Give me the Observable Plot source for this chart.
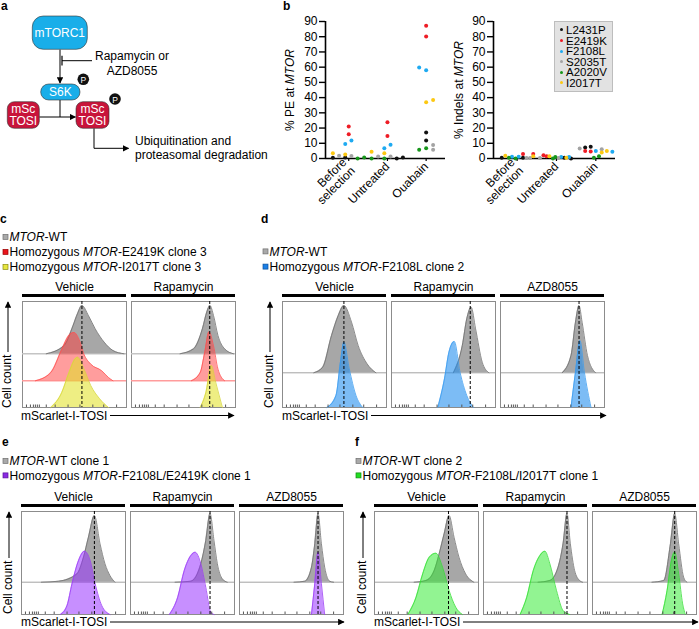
<!DOCTYPE html>
<html><head><meta charset="utf-8">
<script src="https://cdn.jsdelivr.net/npm/d3@7"></script>
<script src="https://cdn.jsdelivr.net/npm/@observablehq/plot@0.6"></script>
<style>
body{margin:0;background:#fff;font-family:"Liberation Sans",Arial,Helvetica,sans-serif;}
#fig{position:relative;width:699px;height:629px;overflow:hidden;background:#fff;}
#fig svg{overflow:visible;}
</style></head><body><div id="fig"></div><script>
// ---------------- DATA ----------------
const mutations = ["L2431P","E2419K","F2108L","S2035T","A2020V","I2017T"];
const mutationColors = ["#111111","#ee1c25","#1eaaf1","#a3a3a3","#17961b","#fcc812"];
const conditions = ["Before\nselection","Untreated","Ouabain"];
const yTicksB = [0,10,20,30,40,50,60,70,80,90];

// % PE at MTOR : [mutation, value, horizontal jitter (in category widths)]
const peBefore = [["L2431P",0.5,-0.41],["L2431P",0.7,-0.09],["E2419K",21,0],["E2419K",16,0],["F2108L",9.6,-0.09],["F2108L",11.8,0.07],["S2035T",1.8,-0.25],["S2035T",1.7,0.07],["A2020V",0,0.23],["A2020V",0.7,0.40],["I2017T",3.4,-0.41],["I2017T",2.6,-0.09]];
const peUntreated = [["L2431P",0,0.24],["L2431P",0.7,0.40],["E2419K",23.8,0],["E2419K",14.8,0],["F2108L",6.8,-0.08],["F2108L",9,0.08],["S2035T",1.3,-0.24],["S2035T",1.3,0.08],["A2020V",0,-0.41],["A2020V",0,-0.08],["I2017T",4.4,-0.41],["I2017T",3.5,-0.08]];
const peOuabain = [["L2431P",17,0],["L2431P",11.8,0],["E2419K",87.2,0],["E2419K",80.2,0],["F2108L",59.8,-0.18],["F2108L",57.9,0],["S2035T",8.8,0.18],["S2035T",5.7,0.18],["A2020V",5.7,-0.18],["A2020V",6.8,0],["I2017T",36.9,0],["I2017T",38.4,0.18]];
// % Indels at MTOR
const indelBefore = [["L2431P",0.5,-0.39],["L2431P",0.5,0.15],["E2419K",2.9,0.15],["E2419K",2.9,0.41],["F2108L",1.1,-0.13],["F2108L",1.1,0.04],["S2035T",0.3,0.24],["S2035T",0.3,0.33],["A2020V",0.5,-0.21],["A2020V",0,-0.04],["I2017T",1.8,-0.30],["I2017T",1.5,0.41]];
const indelUntreated = [["L2431P",0.5,0.2],["L2431P",0,0.37],["E2419K",2.2,-0.33],["E2419K",1.5,-0.25],["F2108L",1,0.12],["F2108L",1,0.32],["S2035T",0.3,-0.42],["S2035T",0.3,0.05],["A2020V",0,-0.09],["A2020V",1,-0.03],["I2017T",1.5,-0.18],["I2017T",0.5,0.25]];
const indelOuabain = [["L2431P",7.2,-0.27],["L2431P",7.7,-0.13],["E2419K",5,-0.27],["E2419K",4.6,-0.13],["F2108L",5,0],["F2108L",4.4,0.42],["S2035T",6.6,-0.41],["S2035T",6.1,0.15],["A2020V",0.5,-0.05],["A2020V",1.5,0.08],["I2017T",3.9,0.15],["I2017T",5,0.28]];

// Flow histograms: [mScarlet-I-TOSI (relative log units), cell count (scaled)]
const treatmentsC = ["Vehicle","Rapamycin"];
const treatments = ["Vehicle","Rapamycin","AZD8055"];
const cWT_Vehicle = [[24,0],[42,8.3],[51,28],[55.5,40],[60,48.3],[66.7,38],[73.4,25],[82.4,11.7],[91.3,3.3],[102.5,0]];
const cE2419K_Vehicle = [[13,0],[28.6,8.3],[39.8,31.7],[46.5,45],[52,48.3],[57.7,40],[62,26.7],[68.9,16.7],[80,10],[86.8,3.3],[91.3,0]];
const cI2017T_Vehicle = [[28.6,0],[39.8,15.3],[46.5,33.7],[53.2,48.7],[55.5,50.3],[62,38.7],[68.9,22],[77.9,8.7],[86.8,0]];
const cWT_Rapamycin = [[49,0],[62.7,5],[71.6,25],[76,41.7],[79.2,48.3],[82.8,38.3],[87.3,18.3],[94,5],[103,0]];
const cE2419K_Rapamycin = [[60.4,0],[69.4,8.3],[73.9,28.3],[78.3,49],[82.8,35],[87.3,11.7],[94,0]];
const cI2017T_Rapamycin = [[69.4,0],[75.2,15.3],[80.6,42],[85,25.3],[91.8,0]];
const cMedianWT = [["Vehicle",60],["Rapamycin",79]];

const dWT_Vehicle = [[31.6,0],[40.6,5.6],[49.5,37.3],[56.3,57.3],[62,67.3],[69.7,50.6],[76.4,27.3],[85.4,9],[94.3,0]];
const dF2108L_Vehicle = [[45,0],[54,12],[58.5,45.3],[62,65.3],[67.4,38.7],[74.2,12],[81,0]];
const dWT_Rapamycin = [[62.5,0],[71.5,27.3],[76,54],[80.4,65.6],[84.9,44],[91.6,10.6],[98.3,0]];
const dF2108L_Rapamycin = [[46.8,0],[53.5,28.7],[58,55.3],[63.4,66],[69.2,35.3],[76,12],[82.7,0]];
const dWT_AZD8055 = [[62.3,0],[71.2,17.3],[75.7,50.6],[79.3,67.3],[82.4,50.6],[87.8,17.3],[95.9,0]];
const dF2108L_AZD8055 = [[71.2,0],[75.7,35.3],[80.2,67],[84.7,35.3],[91.4,0]];
const dMedianWT = [["Vehicle",62],["Rapamycin",79.5],["AZD8055",79.3]];

const eWT_Vehicle = [[20,0],[37.6,1],[56,8.4],[62.6,25],[67.6,45],[73.6,66.7],[79.3,38.4],[84.3,18.4],[89.3,6.7],[94.3,0]];
const eFE_Vehicle = [[39.3,0],[46,9],[51,30.7],[57.6,54],[63.6,63.3],[69.3,54],[74.3,31],[81,9],[89.3,0]];
const eWT_Rapamycin = [[45,0],[61,1],[71,18.4],[76,41.7],[80.3,68.7],[84.3,41.7],[87.7,18.4],[92.7,3.4],[97.7,0]];
const eFE_Rapamycin = [[39.3,0],[47.7,17.3],[54.3,44],[61,59],[65.3,62.3],[71,50.7],[76,27.3],[81,2.3],[84.3,0]];
const eWT_AZD8055 = [[55,0],[66,1],[72.7,15],[76,38.4],[79.3,68.7],[82.7,38.4],[86,15],[91,1],[95,0]];
const eFE_AZD8055 = [[72.7,0],[76,30.7],[79.3,62.3],[82.7,30.7],[86,0]];
const eMedianWT = [["Vehicle",73.6],["Rapamycin",80.3],["AZD8055",79.3]];

const fWT_Vehicle = [[40,0],[52,1.7],[60.3,11.7],[65.3,28.4],[70.3,48.4],[75.3,66.7],[80.3,45],[85.3,25],[92,8.4],[100.3,0]];
const fFI_Vehicle = [[33.7,0],[42,17.3],[48.7,40.7],[55.3,57.3],[62,61.3],[68.7,47.3],[75.3,24],[82,7.3],[88.7,0]];
const fWT_Rapamycin = [[55,0],[67,1.7],[75.3,15],[80.3,38.4],[84.3,68.7],[87.7,38.4],[92,11.7],[97,1.7],[100,0]];
const fFI_Rapamycin = [[37,0],[43.7,17.3],[50.3,44],[57,59],[62,63.3],[67,50.7],[73.7,24],[80.3,4],[87,0]];
const fWT_AZD8055 = [[60,0],[72,1.7],[78.7,38.4],[83,68.7],[87,38.4],[92,5],[95.3,0]];
const fFI_AZD8055 = [[70.3,0],[75.3,24],[79.7,54],[83,62.3],[87,40.7],[91,10.7],[93.7,0]];
const fMedianWT = [["Vehicle",74.7],["Rapamycin",84.3],["AZD8055",83]];

const histTicks = [4,8,11,13,15,17,24,33,46,58,71,82,95];

// ---------------- HELPERS ----------------
const FONT = '"Liberation Sans", Arial, Helvetica, sans-serif';
const fig = document.getElementById("fig");
function place(node, left, top) {
  node.style.position = "absolute"; node.style.left = left + "px"; node.style.top = top + "px";
  fig.appendChild(node);
}
const baseStyle = {fontFamily: FONT, fontSize: "12px", color: "#000", background: "transparent", overflow: "visible"};

// ---------------- PANEL b ----------------
function toPoints(groups) {
  return groups.flatMap((arr, c) => arr.map(([m, v, j]) => ({cond: c, mutation: m, value: v, jitter: j})));
}
function scatterPlot(points, marginLeft) {
  return Plot.plot({
    width: 170, height: 215, marginLeft, marginRight: 5, marginTop: 21, marginBottom: 57,
    style: baseStyle,
    x: {domain: [-0.6, 2.5]},
    y: {domain: [0, 90]},
    color: {domain: mutations, range: mutationColors},
    marks: [
      Plot.axisY({ticks: yTicksB, tickSize: 6, tickPadding: 2, label: null, strokeWidth: 1.4, fontSize: 12}),
      Plot.axisX({ticks: [0, 1, 2], tickFormat: i => conditions[i], tickRotate: -45, tickSize: 3, tickPadding: 3, label: null, fontSize: 12, strokeWidth: 1.2}),
      Plot.ruleX([-0.6], {y1: 0, y2: 90, strokeWidth: 1.6}),
      Plot.ruleY([0], {strokeWidth: 1.6}),
      Plot.dot(points, {x: d => d.cond + d.jitter, y: "value", fill: "mutation", r: 2})
    ]
  });
}
place(scatterPlot(toPoints([peBefore, peUntreated, peOuabain]), 45), 280, 0);
place(scatterPlot(toPoints([indelBefore, indelUntreated, indelOuabain]), 43), 450, 0);

// legend for panel b
const leg = document.createElement("div");
leg.style.cssText = `width:59px;height:71px;background:#e2e2e2;border:1px solid #bdbdbd;font:11.5px ${FONT};line-height:10.6px;padding-top:3px;box-sizing:border-box;`;
mutations.forEach((m, i) => {
  const row = document.createElement("div");
  row.style.cssText = "white-space:nowrap;height:10.6px;";
  row.innerHTML = `<span style="display:inline-block;width:3px;height:3px;border-radius:50%;background:${mutationColors[i]};margin:0 3px 2px 5px;vertical-align:middle"></span>${m}`;
  leg.appendChild(row);
});
place(leg, 554, 21);

// ---------------- HISTOGRAM PANELS ----------------
const histStyles = {
  WT:     {fill: "#858585", opacity: 0.72, stroke: "#707070"},
  E2419K: {fill: "#ff3b3b", opacity: 0.5,  stroke: "#ff5050"},
  I2017T: {fill: "#e2e22a", opacity: 0.58, stroke: "#d6d63c"},
  F2108L: {fill: "#2590ee", opacity: 0.6,  stroke: "#3a9cf0"},
  FE:     {fill: "#9933ff", opacity: 0.55, stroke: "#9a3cf5"},
  FI:     {fill: "#2eea2e", opacity: 0.52, stroke: "#33dd33"}
};
function rows(facet, pts) { return pts.map(([x, n]) => ({facet, x, n})); }

function histPanel({facets, layers, medians, boxH, width, marginLeft, marginRight, paddingInner, baselines}) {
  const marks = [Plot.frame({stroke: "#8c8c8c", strokeWidth: 1})];
  baselines.forEach(b => marks.push(Plot.ruleY([b.y], {stroke: b.stroke, strokeWidth: b.width})));
  layers.forEach(l => {
    const s = histStyles[l.key];
    marks.push(
      Plot.areaY(l.data, {x: "x", y1: () => l.offset, y2: d => l.offset + d.n, fx: "facet", curve: "monotone-x", fill: s.fill, fillOpacity: s.opacity}),
      Plot.line(l.data, {x: "x", y: d => l.offset + d.n, fx: "facet", curve: "monotone-x", stroke: s.stroke, strokeWidth: 0.8})
    );
  });
  marks.push(
    Plot.ruleX(medians, {x: d => d[1], fx: d => d[0], stroke: "#000", strokeWidth: 1, strokeDasharray: "3,2"}),
    Plot.ruleY([boxH], {stroke: "#000", strokeWidth: 3, dy: -6}),
    Plot.axisX({ticks: histTicks, tickSize: 2.5, dy: -2.5, tickFormat: () => "", label: null, stroke: "#555"})
  );
  return Plot.plot({
    width, height: 23 + boxH + 3, marginTop: 23, marginBottom: 3, marginLeft, marginRight,
    style: baseStyle,
    fx: {domain: facets, paddingInner, paddingOuter: 0, axis: "top", label: null, tickSize: 0, tickPadding: 11},
    x: {domain: [0, 105]},
    y: {domain: [0, boxH], axis: null},
    marks
  });
}

// panel c
place(histPanel({
  facets: treatmentsC, boxH: 106, width: 240, marginLeft: 21, marginRight: 5, paddingInner: 0.048,
  baselines: [{y: 53.7, stroke: "#c4c4c4", width: 1.5}, {y: 26.7, stroke: "#ff9c9c", width: 1.5}],
  layers: [
    {key: "WT", offset: 53.7, data: [...rows("Vehicle", cWT_Vehicle), ...rows("Rapamycin", cWT_Rapamycin)]},
    {key: "E2419K", offset: 26.7, data: [...rows("Vehicle", cE2419K_Vehicle), ...rows("Rapamycin", cE2419K_Rapamycin)]},
    {key: "I2017T", offset: 0, data: [...rows("Vehicle", cI2017T_Vehicle), ...rows("Rapamycin", cI2017T_Rapamycin)]}
  ],
  medians: cMedianWT
}), 0, 278);

// panel d
place(histPanel({
  facets: treatments, boxH: 106, width: 348, marginLeft: 20, marginRight: 5, paddingInner: 0.0435,
  baselines: [{y: 34.7, stroke: "#8a8a8a", width: 0.8}],
  layers: [
    {key: "WT", offset: 34.7, data: [...rows("Vehicle", dWT_Vehicle), ...rows("Rapamycin", dWT_Rapamycin), ...rows("AZD8055", dWT_AZD8055)]},
    {key: "F2108L", offset: 0, data: [...rows("Vehicle", dF2108L_Vehicle), ...rows("Rapamycin", dF2108L_Rapamycin), ...rows("AZD8055", dF2108L_AZD8055)]}
  ],
  medians: dMedianWT
}), 262, 278);

// panel e
place(histPanel({
  facets: treatments, boxH: 103, width: 349, marginLeft: 21, marginRight: 5, paddingInner: 0.0435,
  baselines: [{y: 32.3, stroke: "#8a8a8a", width: 0.8}],
  layers: [
    {key: "WT", offset: 32.3, data: [...rows("Vehicle", eWT_Vehicle), ...rows("Rapamycin", eWT_Rapamycin), ...rows("AZD8055", eWT_AZD8055)]},
    {key: "FE", offset: 0, data: [...rows("Vehicle", eFE_Vehicle), ...rows("Rapamycin", eFE_Rapamycin), ...rows("AZD8055", eFE_AZD8055)]}
  ],
  medians: eMedianWT
}), 0, 488);

// panel f
place(histPanel({
  facets: treatments, boxH: 103, width: 349, marginLeft: 23, marginRight: 1, paddingInner: 0.0435,
  baselines: [{y: 32.3, stroke: "#8a8a8a", width: 0.8}],
  layers: [
    {key: "WT", offset: 32.3, data: [...rows("Vehicle", fWT_Vehicle), ...rows("Rapamycin", fWT_Rapamycin), ...rows("AZD8055", fWT_AZD8055)]},
    {key: "FI", offset: 0, data: [...rows("Vehicle", fFI_Vehicle), ...rows("Rapamycin", fFI_Rapamycin), ...rows("AZD8055", fFI_AZD8055)]}
  ],
  medians: fMedianWT
}), 350, 488);

// ---------------- OVERLAY: schematic, labels, legends ----------------
const svg = d3.select(fig).append("svg").attr("width", 699).attr("height", 629)
  .style("position", "absolute").style("left", "0px").style("top", "0px")
  .style("pointer-events", "none").style("font-family", FONT);
svg.append("defs").append("marker").attr("id", "ah").attr("viewBox", "0 0 10 10")
  .attr("refX", 9).attr("refY", 5).attr("markerWidth", 6.5).attr("markerHeight", 6.5)
  .attr("markerUnits", "userSpaceOnUse").attr("orient", "auto")
  .append("path").attr("d", "M0,0L10,5L0,10z").attr("fill", "#000");

function txt(x, y, s, o = {}) {
  const t = svg.append("text").attr("x", x).attr("y", y).attr("font-size", o.size || 12)
    .attr("fill", o.fill || "#000").attr("text-anchor", o.anchor || "start");
  if (o.weight) t.attr("font-weight", o.weight);
  if (o.baseline) t.attr("dominant-baseline", o.baseline);
  if (o.rotate) t.attr("transform", `rotate(${o.rotate},${x},${y})`);
  (Array.isArray(s) ? s : [[s, false]]).forEach(([p, it]) => t.append("tspan").attr("font-style", it ? "italic" : "normal").text(p));
  return t;
}
function path(d, o = {}) {
  const p = svg.append("path").attr("d", d).attr("fill", o.fill || "none").attr("stroke", o.stroke || "#000").attr("stroke-width", o.width || 1);
  if (o.arrow) p.attr("marker-end", "url(#ah)");
  return p;
}

// panel letters
[["a", 1, 10], ["b", 283, 10], ["c", 0, 223], ["d", 261, 223], ["e", 2, 446], ["f", 355, 446]]
  .forEach(([l, x, y]) => txt(x, y, l, {weight: "bold", size: 12}));

// panel a schematic
const blue = "#19aee9", crimson = "#c8143a";
function box(x, y, w, h, r, fill, lines) {
  svg.append("rect").attr("x", x).attr("y", y).attr("width", w).attr("height", h).attr("rx", r)
    .attr("fill", fill).attr("stroke", "#333").attr("stroke-width", 0.6);
  const n = lines.length;
  lines.forEach((s, i) => txt(x + w / 2, y + h / 2 + (i - (n - 1) / 2) * 12.8, s, {anchor: "middle", baseline: "central", fill: "#fff", size: 12}));
}
function pCircle(cx, cy) {
  svg.append("circle").attr("cx", cx).attr("cy", cy).attr("r", 5.8).attr("fill", "#111");
  txt(cx, cy + 0.5, "P", {anchor: "middle", baseline: "central", fill: "#fff", size: 8.5});
}
path("M60,49.5V83", {arrow: true});
path("M62,60.7H92"); path("M62,55.8V65.6", {width: 1.2});
txt(132, 59.5, "Rapamycin or", {anchor: "middle"});
txt(132, 74.5, "AZD8055", {anchor: "middle"});
box(32.3, 16, 55, 33.3, 11, blue, ["mTORC1"]);
path("M60,100V117");
path("M39.3,117H75.5", {arrow: true});
path("M94,128.3V148.3H128.5", {arrow: true});
box(40.7, 84, 39.3, 16, 8, blue, ["S6K"]);
box(7.3, 101.7, 32, 26.6, 7, crimson, ["mSc", "TOSI"]);
box(76, 101.7, 33, 26.6, 7, crimson, ["mSc", "TOSI"]);
pCircle(83.3, 79.3);
pCircle(115, 99);
txt(135, 144.5, "Ubiquitination and");
txt(135, 159, "proteasomal degradation");

// panel b axis titles
txt(290, 90, [["% PE at ", false], ["MTOR", true]], {anchor: "middle", baseline: "central", rotate: -90});
txt(459, 90, [["% Indels at ", false], ["MTOR", true]], {anchor: "middle", baseline: "central", rotate: -90});

// legends for c-f
function legendRow(x, y, fill, stroke, parts) {
  svg.append("rect").attr("x", x).attr("y", y - 2.6).attr("width", 5).attr("height", 5)
    .attr("fill", fill).attr("stroke", stroke).attr("stroke-width", 0.7);
  txt(x + 6.5, y, parts, {baseline: "central"});
}
const L = {
  WT: ["#a9a9a9", "#6f6f6f"], E2419K: ["#e8141c", "#9a0000"], I2017T: ["#e6e640", "#8a8a10"],
  F2108L: ["#1a7fe6", "#0a4f9a"], FE: ["#8a2be2", "#5a109a"], FI: ["#22dd22", "#108a10"]
};
legendRow(3, 237, ...L.WT, [["MTOR", true], ["-WT", false]]);
legendRow(3, 252, ...L.E2419K, [["Homozygous ", false], ["MTOR", true], ["-E2419K clone 3", false]]);
legendRow(3, 267, ...L.I2017T, [["Homozygous ", false], ["MTOR", true], ["-I2017T clone 3", false]]);
legendRow(263, 251.5, ...L.WT, [["MTOR", true], ["-WT", false]]);
legendRow(263, 266.7, ...L.F2108L, [["Homozygous ", false], ["MTOR", true], ["-F2108L clone 2", false]]);
legendRow(3, 461, ...L.WT, [["MTOR", true], ["-WT clone 1", false]]);
legendRow(3, 475.5, ...L.FE, [["Homozygous ", false], ["MTOR", true], ["-F2108L/E2419K clone 1", false]]);
legendRow(356, 461, ...L.WT, [["MTOR", true], ["-WT clone 2", false]]);
legendRow(356, 475.5, ...L.FI, [["Homozygous ", false], ["MTOR", true], ["-F2108L/I2017T clone 1", false]]);

// cell count / mScarlet axis arrows
function yArrow(x, bottom, top) {
  txt(x - 1, bottom, "Cell count", {rotate: -90, baseline: "central"});
  path(`M${x},${bottom - 56}V${top}`, {arrow: true});
}
function xArrow(left, y, right) {
  txt(left, y, "mScarlet-I-TOSI", {baseline: "central"});
  path(`M${left + 89},${y}H${right}`, {arrow: true});
}
yArrow(8, 408, 302); yArrow(270, 408, 302);
yArrow(9, 614, 512); yArrow(363, 614, 512);
xArrow(21, 415.5, 234); xArrow(282, 415.5, 606);
xArrow(21, 622, 344); xArrow(374, 622, 698);
</script></body></html>
